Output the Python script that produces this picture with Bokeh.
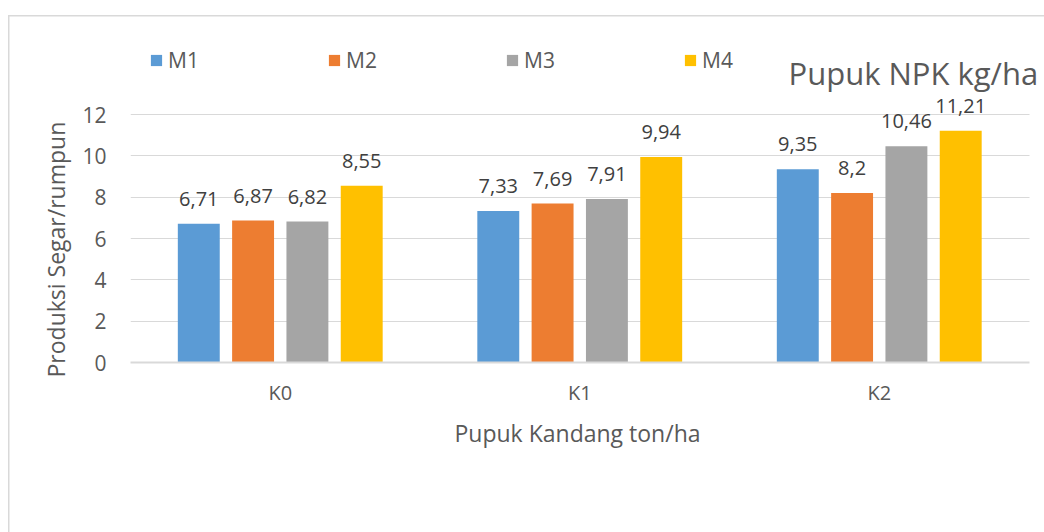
from bokeh.plotting import figure
from bokeh.models import (ColumnDataSource, Range1d, Label, LabelSet, Legend, LegendItem,
                          Title, FixedTicker)
from bokeh.transform import dodge
from bokeh.core.properties import value
from bokeh.embed import file_html
from bokeh.resources import INLINE

# ---- data ----
categories = ["K0", "K1", "K2"]
series = ["M1", "M2", "M3", "M4"]
m1 = [6.71, 7.33, 9.35]
m2 = [6.87, 7.69, 8.2]
m3 = [6.82, 7.91, 10.46]
m4 = [8.55, 9.94, 11.21]
y_ticks = [0, 2, 4, 6, 8, 10, 12]
title_text = "Pupuk NPK kg/ha"
x_title = "Pupuk Kandang ton/ha"
y_title = "Produksi Segar/rumpun"

# ---- style ----
colors = ["#5B9BD5", "#ED7D31", "#A5A5A5", "#FFC000"]
offsets = [-0.272, -0.0907, 0.0907, 0.272]
FONT = "Open Sans"
TXT = "#595959"

def fmt(v):
    return f"{v:g}".replace(".", ",")

n = len(categories)
xc = [i + 0.5 for i in range(n)]
data = {"cat": categories, "xc": xc}
for name, vals in zip(series, [m1, m2, m3, m4]):
    data[name] = vals
    data[name + "_lbl"] = [fmt(v) for v in vals]
source = ColumnDataSource(data)

W, H = 1044, 532
FL, FB = 130, 170          # frame left / bottom border (px)
px_per_cat = 299.5
px_per_unit = 248 / 12.0
x_end = (W - FL) / px_per_cat
y_end = (H - FB) / px_per_unit

p = figure(x_range=Range1d(0, x_end), y_range=Range1d(0, y_end),
           width=W, height=H, output_backend="svg", toolbar_location=None,
           title=None, min_border_left=FL, min_border_right=0,
           min_border_top=0, min_border_bottom=FB)
p.outline_line_color = None
p.background_fill_alpha = 0
p.border_fill_alpha = 0
p.styles = {
    "background-image": "linear-gradient(#d9d9d9, #d9d9d9), linear-gradient(#d9d9d9, #d9d9d9)",
    "background-size": "100% 1.5px, 1.5px 100%",
    "background-position": "8px 15px, 8px 15px",
    "background-repeat": "no-repeat",
}

items = []
for name, off, col in zip(series, offsets, colors):
    xs = dodge("xc", off)
    r = p.vbar(x=xs, top=name, width=0.14, source=source,
               fill_color=col, line_color=None)
    items.append(LegendItem(label=name, renderers=[r]))
    p.add_layout(LabelSet(x=xs, y=name, text=name + "_lbl", source=source,
                          text_align="center", text_baseline="alphabetic",
                          y_offset=18, text_font=value(FONT),
                          text_font_size=value("20px"), text_color="#404040"))

# y axis
p.yaxis.ticker = FixedTicker(ticks=y_ticks)
p.yaxis.axis_line_color = None
p.yaxis.major_tick_line_color = None
p.yaxis.minor_tick_line_color = None
p.yaxis.major_tick_out = 0
p.yaxis.major_label_standoff = 24
p.yaxis.major_label_text_font = FONT
p.yaxis.major_label_text_font_size = "21px"
p.yaxis.major_label_text_color = TXT

# x axis
p.xaxis.ticker = FixedTicker(ticks=xc)
p.xaxis.major_label_overrides = {x: c for x, c in zip(xc, categories)}
p.xaxis.bounds = (0, n)
p.xaxis.axis_line_color = "#d9d9d9"
p.xaxis.axis_line_width = 2
p.xaxis.major_tick_line_color = None
p.xaxis.minor_tick_line_color = None
p.xaxis.major_tick_out = 0
p.xaxis.major_label_standoff = 16
p.xaxis.major_label_text_font = FONT
p.xaxis.major_label_text_font_size = "20px"
p.xaxis.major_label_text_color = TXT

p.ygrid.grid_line_color = "#d9d9d9"
p.ygrid.grid_line_width = 1
p.ygrid.cross_bounds = (0, n)
p.xgrid.grid_line_color = None

# x title in the below panel, centred on the categories
p.add_layout(Title(text=x_title, align="left", offset=324, standoff=12,
                   text_font=FONT, text_font_size="23px", text_font_style="normal",
                   text_color=TXT), "below")

# y title in the left panel
p.add_layout(Title(text=y_title, align="left", offset=-15, standoff=16,
                   text_font=FONT, text_font_size="23px", text_font_style="normal",
                   text_color=TXT), "left")

# chart title
p.add_layout(Label(x=658, y=290, x_units="screen", y_units="screen", text=title_text,
                   text_align="left", text_baseline="alphabetic",
                   text_font=FONT, text_font_size="31px", text_color=TXT))

legend = Legend(items=items, orientation="horizontal", location=(19, 288),
                glyph_width=14, glyph_height=14, label_standoff=5,
                label_width=159, spacing=0, padding=0, margin=0,
                border_line_color=None, background_fill_alpha=0,
                label_text_font=FONT, label_text_font_size="21px",
                label_text_color=TXT)
p.add_layout(legend)

open("out.html", "w").write(file_html(p, INLINE))
